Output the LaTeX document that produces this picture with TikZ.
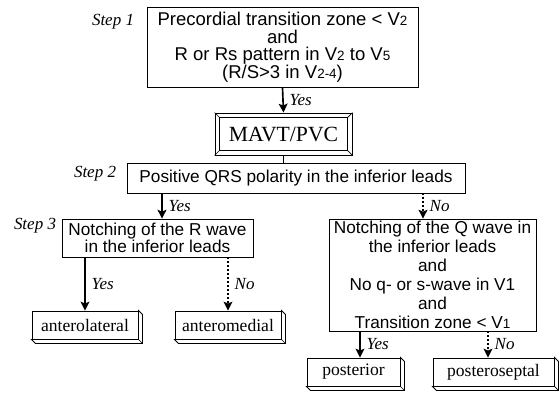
\documentclass[tikz,border=0pt]{standalone}
\usepackage{fontspec}
\setmainfont{Liberation Serif}
\setsansfont{Liberation Sans}
\usetikzlibrary{arrows.meta}

\newcommand{\lsub}[1]{{\fontsize{11.5}{10}\selectfont #1}}

\begin{document}
\begin{tikzpicture}[x=0.03cm, y=-0.03cm,
	box/.style={draw, line width=0.6pt, inner sep=0pt, align=center, font=\sffamily\fontsize{14.7}{14.6}\selectfont},
	endbox/.style={draw, fill=white, line width=0.8pt, inner sep=0pt, minimum height=0.84cm, font=\fontsize{15}{15}\selectfont},
	steplabel/.style={font=\itshape\fontsize{14.5}{14.5}\selectfont},
	answer/.style={right, inner sep=1pt, xshift=4pt, font=\itshape\fontsize{14.5}{14.5}\selectfont},
	yes/.style={line width=1.4pt, -{Stealth[length=7.5pt, width=7.5pt, inset=1.5pt]}},
	no/.style={yes, dotted}]
	\useasboundingbox (0,0) rectangle (559,393);
	\coordinate (c1) at (162,0); \coordinate (c2) at (423,0);
	\coordinate (c3) at (360,0); \coordinate (c4) at (488,0);
	% steps
	\node[box, minimum width=8.13cm, minimum height=2.4cm, font=\sffamily\fontsize{15.8}{14.7}\selectfont] (s1) at (282.5,47.5)
		{Precordial transition zone < V\lsub{2}\\ and\\ R or Rs pattern in V\lsub{2} to V\lsub{5}\\ (R/S>3 in V\lsub{2-4})};
	\node[draw, line width=0.8pt, inner sep=0pt, minimum width=4.11cm, minimum height=1.26cm,
		font=\fontsize{18.5}{18.5}\selectfont] (mavt) at (283.5,134) {MAVT/PVC};
	\node[box, minimum width=10.14cm, minimum height=0.9cm] (s2) at (296,178)
		{Positive QRS polarity in the inferior leads};
	\node[box, minimum width=5.73cm, minimum height=1.14cm] (s3) at (157.5,238)
		{Notching of the R wave\\ in the inferior leads};
	\node[box, minimum width=6.21cm, minimum height=3.36cm, font=\sffamily\fontsize{14.7}{16.2}\selectfont] (q) at (432.5,275)
		{Notching of the Q wave in\\ the inferior leads\\ and\\ No q- or s-wave in V1\\ and\\ Transition zone < V\lsub{1}};
	\node[steplabel] (st1) at (113,22) {Step 1};
	\node[steplabel] (st2) at (95,174) {Step 2};
	\node[steplabel] (st3) at (35,226) {Step 3};
	% frame of MAVT/PVC
	\draw[line width=0.6pt] ([shift={(5,5)}]mavt.north west) rectangle ([shift={(-5,-5)}]mavt.south east);
	\foreach \c/\dx/\dy in {north west/5/5, north east/-5/5, south west/5/-5, south east/-5/-5}
	{
		\draw[line width=0.6pt] (mavt.\c) -- ++(\dx,\dy);
	}
	% results
	\node[endbox, minimum width=3.18cm] (antlat) at (85,325) {anterolateral};
	\node[endbox, minimum width=3.18cm] (antmed) at (228,325) {anteromedial};
	\node[endbox, minimum width=2.79cm] (post) at (353.5,372) {posterior};
	\node[endbox, minimum width=3.63cm] (postsep) at (493.5,372) {posteroseptal};
	\foreach \n in {antlat,antmed,post,postsep}
	{
		\draw[line width=0.8pt, fill=white] (\n.north east) -- ++(4,4) -- ([shift={(4,4)}]\n.south east)
			-- ([shift={(4,4)}]\n.south west) -- (\n.south west) -- (\n.south east) -- cycle;
		\draw[line width=0.6pt] (\n.south east) -- ++(4,4);
	}
	% connectors
	\draw[yes] (s1.south) -- node[answer] {Yes} (mavt.north);
	\draw[line width=1.4pt] (mavt.south) -- (mavt.south |- s2.north);
	\draw[yes] (s2.south -| c1) -- node[answer] {Yes} (s3.north -| c1);
	\draw[no] (s2.south -| c2) -- node[answer] {No} (q.north -| c2);
	\draw[yes] (s3.south -| antlat.north) -- node[answer] {Yes} (antlat.north);
	\draw[no] (s3.south -| antmed.north) -- node[answer] {No} (antmed.north);
	\draw[yes] (q.south -| c3) -- node[answer] {Yes} (post.north -| c3);
	\draw[no] (q.south -| c4) -- node[answer] {No} (postsep.north -| c4);
\end{tikzpicture}
\end{document}
